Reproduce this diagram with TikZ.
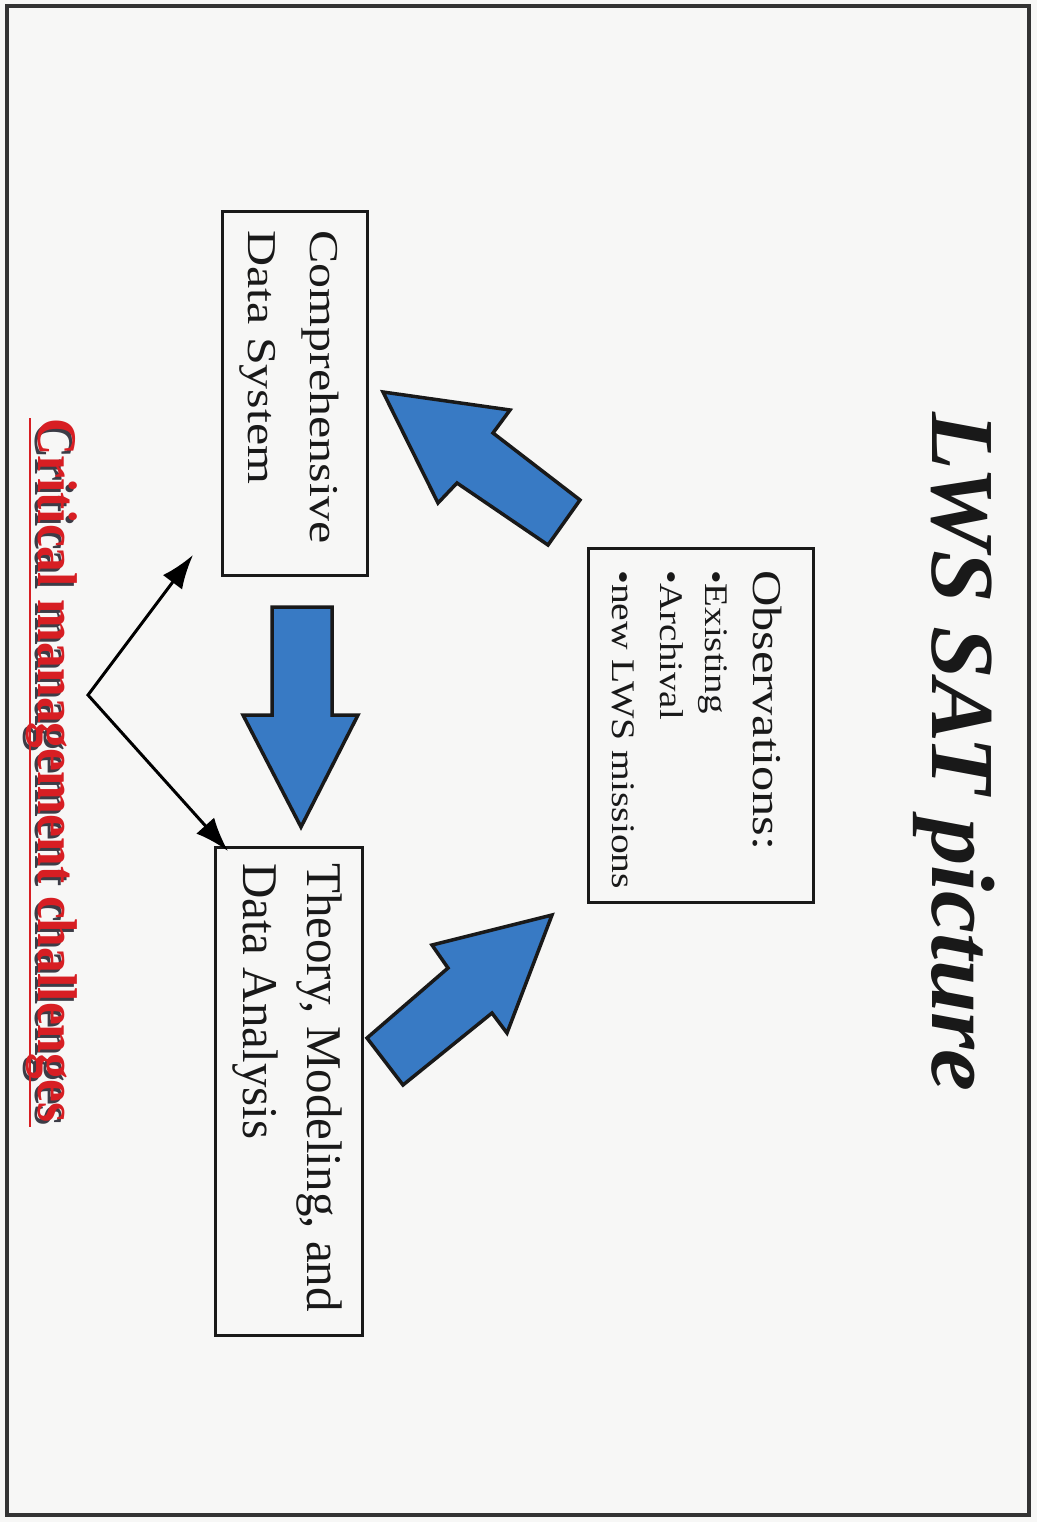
\documentclass[tikz,border=0pt]{standalone}
\usepackage{fontspec}
\usepackage{graphicx}
\setmainfont{Liberation Serif}
\usetikzlibrary{arrows.meta}
\definecolor{paper}{RGB}{247,247,246}
\definecolor{ink}{RGB}{25,25,25}
\definecolor{blockblue}{RGB}{56,122,196}
\definecolor{critred}{RGB}{215,30,35}
\definecolor{shadowgray}{RGB}{60,60,70}
\newcommand{\sx}[2]{\scalebox{#1}[1]{#2}}
\begin{document}
\begin{tikzpicture}[x=1pt,y=-1pt,
  txt/.style={rotate=-90, anchor=base west, inner sep=0pt, text=ink},
  boxline/.style={draw=ink, line width=3pt, inner sep=0pt},
  block/.style={fill=blockblue, draw=black!90, line width=3.5pt, line join=miter},
  pointer/.style={draw=black, line width=3pt, line join=miter,
    {Latex[length=34pt,width=24pt]}-{Latex[length=34pt,width=24pt]}},
]
\fill[paper] (0,0) rectangle (1037,1522);
\useasboundingbox (0,0) rectangle (1037,1522);
\draw[draw=black!80, line width=3.5pt] (7,6) rectangle (1029,1515);

% title
\node[txt, font=\fontsize{90}{90}\selectfont\bfseries\itshape] (title) at (932,412) {\sx{1.05}{LWS SAT picture}};

% boxes
\node[boxline, minimum width=225pt, minimum height=354pt] (obsbox) at (700.5,725) {};
\node[boxline, minimum width=145pt, minimum height=363pt] (cdsbox) at (294.5,393.5) {};
\node[boxline, minimum width=147pt, minimum height=488pt] (tmabox) at (288.5,1091) {};

% box texts
\node[txt, font=\fontsize{41}{41}\selectfont] (obs1) at (753,570) {\sx{1.23}{Observations:}};
\node[txt, font=\fontsize{33}{33}\selectfont] (obs2) at (705,570) {\sx{1.18}{•Existing}};
\node[txt, font=\fontsize{33}{33}\selectfont] (obs3) at (660,570) {\sx{1.18}{•Archival}};
\node[txt, font=\fontsize{33}{33}\selectfont] (obs4) at (612,570) {\sx{1.2}{•new LWS missions}};

\node[txt, font=\fontsize{41}{41}\selectfont] (cds1) at (310,230) {\sx{1.22}{Comprehensive}};
\node[txt, font=\fontsize{41}{41}\selectfont] (cds2) at (248,230) {\sx{1.22}{Data System}};

\node[txt, font=\fontsize{50}{50}\selectfont] (tma1) at (307,863) {\sx{0.98}{Theory, Modeling, and}};
\node[txt, font=\fontsize{50}{50}\selectfont] (tma2) at (243,863) {\sx{0.98}{Data Analysis}};

% blue block arrows
\draw[block] (383,392) -- (510,410) -- (493,433) -- (580,500) -- (548,545) -- (457,483) -- (438,503) -- cycle;
\draw[block] (552,915) -- (507,1033) -- (492,1013) -- (403,1085) -- (367,1038) -- (448,968) -- (432,945) -- cycle;
\draw[block] (272,607) -- (332,607) -- (332,715) -- (358,715) -- (301,827) -- (243,715) -- (272,715) -- cycle;

% thin pointers
\coordinate (fork) at (88,695);
\coordinate (toCds) at (193,555);
\coordinate (toTma) at (228,851);
\draw[pointer] (toCds) -- (fork) -- (toTma);

% critical management challenges
\node[txt, text=shadowgray, font=\fontsize{56}{56}\selectfont\bfseries] (critshadow) at (35,421) {\sx{0.92}{Critical management challenges}};
\node[txt, text=critred, font=\fontsize{56}{56}\selectfont\bfseries] (crit) at (38,418) {\sx{0.92}{Critical management challenges}};
\draw[critred, line width=2.5pt] (30,418) -- (30,1127);
\end{tikzpicture}
\end{document}
